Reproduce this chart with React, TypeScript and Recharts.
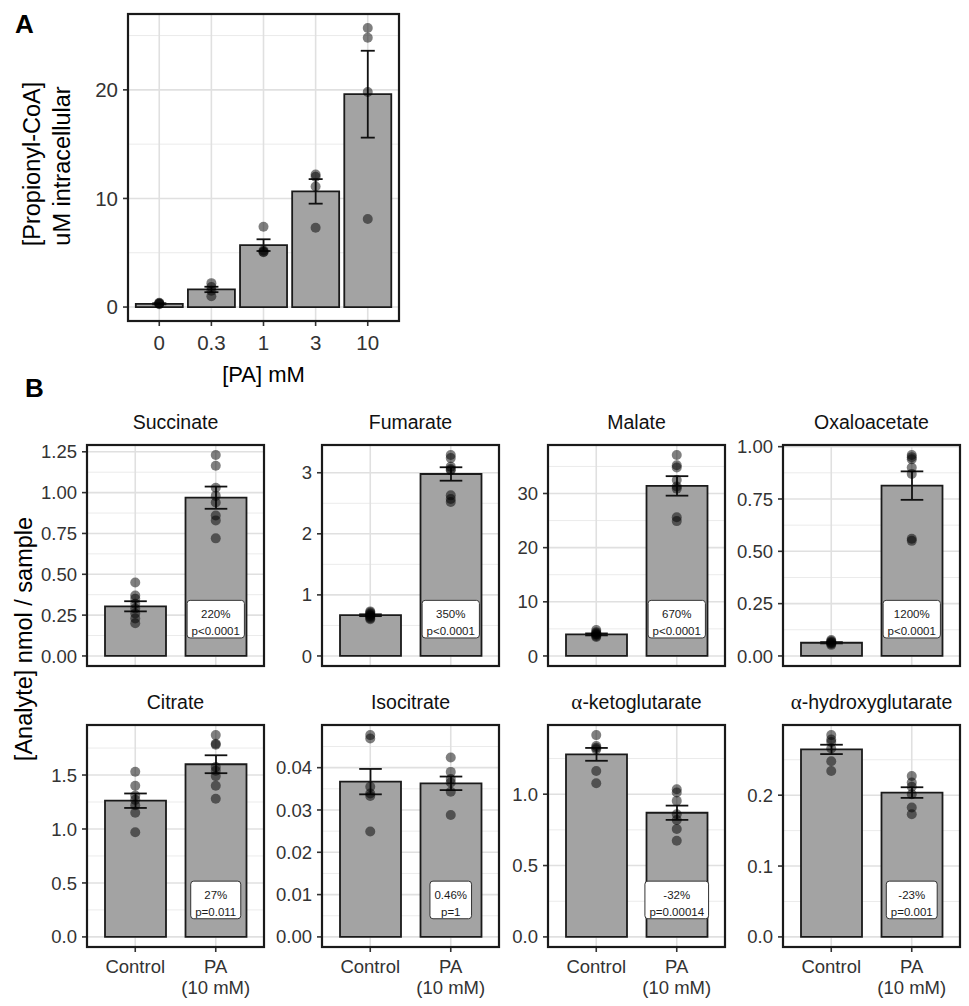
import React from "react";
import { Bar, CartesianGrid, ComposedChart, ErrorBar, ReferenceDot, Scatter, XAxis, YAxis } from "recharts";

const FONT = '"Liberation Sans", Arial, Helvetica, sans-serif';
const GREEK_FONT = '"Liberation Serif", "DejaVu Serif", serif';

// ---- panel A: propionyl-CoA vs PA dose ----
const paDoses = ["0", "0.3", "1", "3", "10"];
const propionylMeans = [0.3, 1.62, 5.7, 10.65, 19.6];
const propionylSE = [0.05, 0.25, 0.54, 1.13, 4.0];
const propionylPoints = [
  [0.25, 0.3, 0.35, 0.4],
  [1.0, 1.5, 1.85, 2.2],
  [7.4, 5.2, 5.05, 5.1],
  [12.2, 12.0, 11.1, 7.3],
  [25.7, 24.8, 19.8, 8.1],
];
const propionylTicks = [0, 10, 20];
const propionylTickLabels = ["0", "10", "20"];
const propionylMinor = [5, 15, 25];

// ---- panel B: TCA analytes, Control vs PA ----
const groups = ["Control", "PA"];
const groupLabels = ["Control", "PA\n(10 mM)"];

const succinateMeans = [0.304, 0.969];
const succinateSE = [0.031, 0.068];
const succinatePoints = [
  [0.45, 0.37, 0.35, 0.32, 0.29, 0.26, 0.23, 0.2],
  [1.23, 1.165, 1.03, 0.98, 0.94, 0.86, 0.83, 0.72],
];

const fumarateMeans = [0.667, 2.98];
const fumarateSE = [0.015, 0.11];
const fumaratePoints = [
  [0.73, 0.71, 0.69, 0.67, 0.66, 0.64, 0.62, 0.6],
  [3.29, 3.24, 3.1, 3.06, 3.04, 2.63, 2.57, 2.52],
];

const malateMeans = [3.98, 31.4];
const malateSE = [0.18, 1.8];
const malatePoints = [
  [4.8, 4.4, 4.2, 4.0, 3.9, 3.7, 3.5],
  [37.1, 35.2, 34.8, 32.5, 31.3, 30.9, 25.6, 24.9],
];

const oaaMeans = [0.063, 0.814];
const oaaSE = [0.003, 0.068];
const oaaPoints = [
  [0.076, 0.07, 0.066, 0.062, 0.058, 0.053],
  [0.96, 0.95, 0.94, 0.9, 0.87, 0.56, 0.55],
];

const citrateMeans = [1.262, 1.6];
const citrateSE = [0.067, 0.083];
const citratePoints = [
  [1.53, 1.4, 1.31, 1.27, 1.22, 1.15, 0.97],
  [1.87, 1.79, 1.78, 1.575, 1.54, 1.49, 1.4, 1.28],
];

const isocitrateMeans = [0.0367, 0.0363];
const isocitrateSE = [0.003, 0.0016];
const isocitratePoints = [
  [0.0477, 0.0469, 0.0355, 0.0339, 0.0333, 0.0249],
  [0.0424, 0.039, 0.0373, 0.0365, 0.0343, 0.0288],
];

const akgMeans = [1.279, 0.87];
const akgSE = [0.045, 0.05];
const akgPoints = [
  [1.414, 1.337, 1.325, 1.314, 1.163, 1.077],
  [1.035, 1.012, 0.953, 0.86, 0.819, 0.756, 0.674],
];

const ahgMeans = [0.2646, 0.2037];
const ahgSE = [0.0066, 0.0075];
const ahgPoints = [
  [0.2848, 0.2787, 0.275, 0.266, 0.248, 0.234],
  [0.227, 0.218, 0.212, 0.2014, 0.1827, 0.173],
];

const succinateTicks = [0, 0.25, 0.5, 0.75, 1, 1.25];
const succinateTickLabels = ["0.00", "0.25", "0.50", "0.75", "1.00", "1.25"];
const succinateMinor = [0.125, 0.375, 0.625, 0.875, 1.125];
const fumarateTicks = [0, 1, 2, 3];
const fumarateTickLabels = ["0", "1", "2", "3"];
const fumarateMinor = [0.5, 1.5, 2.5];
const malateTicks = [0, 10, 20, 30];
const malateTickLabels = ["0", "10", "20", "30"];
const malateMinor = [5, 15, 25, 35];
const oaaTicks = [0, 0.25, 0.5, 0.75, 1];
const oaaTickLabels = ["0.00", "0.25", "0.50", "0.75", "1.00"];
const oaaMinor = [0.125, 0.375, 0.625, 0.875];
const citrateTicks = [0, 0.5, 1, 1.5];
const citrateTickLabels = ["0.0", "0.5", "1.0", "1.5"];
const citrateMinor = [0.25, 0.75, 1.25, 1.75];
const isocitrateTicks = [0, 0.01, 0.02, 0.03, 0.04];
const isocitrateTickLabels = ["0.00", "0.01", "0.02", "0.03", "0.04"];
const isocitrateMinor = [0.005, 0.015, 0.025, 0.035, 0.045];
const akgTicks = [0, 0.5, 1];
const akgTickLabels = ["0.0", "0.5", "1.0"];
const akgMinor = [0.25, 0.75, 1.25];
const ahgTicks = [0, 0.1, 0.2];
const ahgTickLabels = ["0.0", "0.1", "0.2"];
const ahgMinor = [0.05, 0.15, 0.25];

const analyteNames = [
  "Succinate",
  "Fumarate",
  "Malate",
  "Oxaloacetate",
  "Citrate",
  "Isocitrate",
  "α-ketoglutarate",
  "α-hydroxyglutarate",
];
const changeLabels = ["220%", "350%", "670%", "1200%", "27%", "0.46%", "-32%", "-23%"];
const pLabels = ["p<0.0001", "p<0.0001", "p<0.0001", "p<0.0001", "p=0.011", "p=1", "p=0.00014", "p=0.001"];

// ---- helpers ----
function expandedDomain(means: number[], se: number[], points: number[][]): [number, number] {
  const vals = [0, ...means.map((m, i) => m + se[i]), ...means.map((m, i) => m - se[i]), ...points.flat()];
  const lo = Math.min(...vals);
  const hi = Math.max(...vals);
  const pad = (hi - lo) * 0.05;
  return [lo - pad, hi + pad];
}

let measureCtx: CanvasRenderingContext2D | null = null;
function textWidth(s: string, size: number) {
  if (!measureCtx) measureCtx = document.createElement("canvas").getContext("2d");
  if (!measureCtx) return s.length * size * 0.55;
  measureCtx.font = `${size}px ${FONT}`;
  return measureCtx.measureText(s).width;
}

function NoteBox({ cx, cy, lines }: { cx: number; cy: number; lines: [string, string] }) {
  const size = 11.5;
  const w = Math.max(textWidth(lines[0], size), textWidth(lines[1], size)) + 9;
  const h = 37.6;
  const top = cy - h / 2;
  return (
    <g>
      <rect x={cx - w / 2} y={top} width={w} height={h} rx={3} fill="#fff" stroke="#333" strokeWidth={1} />
      <text x={cx} y={top + 17.7} textAnchor="middle" fontSize={size} fontFamily={FONT} fill="#1a1a1a">
        {lines[0]}
      </text>
      <text x={cx} y={top + 35.1} textAnchor="middle" fontSize={size} fontFamily={FONT} fill="#1a1a1a">
        {lines[1]}
      </text>
    </g>
  );
}

const dotShape = (props: any) => <circle cx={props.cx} cy={props.cy} r={5} fill="#000" fillOpacity={0.5} />;

// band centre of a category from whatever scale object recharts hands the grid
function bandCentre(scale: any, value: string): number {
  if (!scale) return NaN;
  const bw = typeof scale.bandwidth === "function" ? scale.bandwidth() : 0;
  if (typeof scale === "function") return scale(value) + bw / 2;
  if (typeof scale.map === "function") return scale.map(value) + bw / 2;
  if (typeof scale.apply === "function") return scale.apply(value) + bw / 2;
  return NaN;
}

type PanelProps = {
  categories: string[];
  tickNames: string[];
  means: number[];
  se: number[];
  points: number[][];
  ticks: number[];
  tickLabels: string[];
  minor: number[];
  box: { x: number; y: number; w: number; h: number };
  showX: boolean;
  padX: number;
  gap: number;
  whisker: number;
  yFont: number;
  xFont: number;
  xDy: number;
  note?: [string, string];
};

function Panel(p: PanelProps) {
  const { box } = p;
  const yw = 72;
  const top = 14;
  const right = 4;
  const xh = p.showX ? 60 : 0;
  const bottom = p.showX ? 0 : 4;
  const rows = p.categories.map((c, i) => ({ group: c, mean: p.means[i], se: p.se[i] }));
  const dots = p.points.flatMap((vals, i) => vals.map((v) => ({ group: p.categories[i], value: v })));
  const domain = expandedDomain(p.means, p.se, p.points);
  const labelY = domain[0] + 0.212 * (domain[1] - domain[0]);

  const vGen = (args: any) => {
    let out: number[] = [];
    try {
      out = p.categories.map((c) => bandCentre(args?.xAxis?.scale, c));
    } catch (e) {
      out = [];
    }
    if (out.length && out.every((v) => Number.isFinite(v))) return out;
    // fallback: evenly spaced bands inside the padded range
    const off = args?.offset ?? { left: 0, width: 0 };
    const band = (off.width - 2 * p.padX) / p.categories.length;
    return p.categories.map((_, i) => off.left + p.padX + band * (i + 0.5));
  };

  const XTick = (t: any) => {
    const idx = p.categories.indexOf(t.payload.value);
    const lines = (idx >= 0 ? p.tickNames[idx] : String(t.payload.value)).split("\n");
    return (
      <text x={t.x} y={t.y + p.xDy} textAnchor="middle" fontSize={p.xFont} fontFamily={FONT} fill="#333">
        {lines.map((l, i) => (
          <tspan key={i} x={t.x} dy={i === 0 ? 0 : 21}>
            {l}
          </tspan>
        ))}
      </text>
    );
  };

  return (
    <div style={{ position: "absolute", left: box.x - yw, top: box.y - top }}>
      <ComposedChart
        width={yw + box.w + right}
        height={top + box.h + xh + bottom}
        data={rows}
        margin={{ top, right, bottom, left: 0 }}
        barCategoryGap={p.gap}
      >
        <CartesianGrid horizontalValues={p.minor} vertical={false} stroke="#ebebeb" strokeWidth={1} />
        <CartesianGrid horizontalValues={p.ticks} verticalCoordinatesGenerator={vGen} stroke="#e0e0e0" strokeWidth={1.6} />
        <XAxis
          dataKey="group"
          type="category"
          allowDuplicatedCategory={false}
          padding={{ left: p.padX, right: p.padX }}
          hide={!p.showX}
          height={xh}
          axisLine={false}
          tickLine={{ stroke: "#333", strokeWidth: 1.6 }}
          tickSize={5}
          tickMargin={0}
          interval={0}
          tick={<XTick />}
        />
        <YAxis
          type="number"
          domain={domain}
          allowDataOverflow
          ticks={p.ticks}
          interval={0}
          tickFormatter={(v: number) => p.tickLabels[p.ticks.indexOf(v)] ?? String(v)}
          width={yw}
          axisLine={false}
          tickLine={{ stroke: "#333", strokeWidth: 1.6 }}
          tickSize={5}
          tickMargin={5}
          tick={{ fontSize: p.yFont, fill: "#333", fontFamily: FONT }}
        />
        <Bar dataKey="mean" fill="#a3a3a3" stroke="#1a1a1a" strokeWidth={1.8} isAnimationActive={false}>
          <ErrorBar dataKey="se" width={p.whisker} stroke="#111" strokeWidth={1.8} />
        </Bar>
        <Scatter data={dots} dataKey="value" isAnimationActive={false} shape={dotShape} />
        {p.note && (
          <ReferenceDot
            x={p.categories[1]}
            y={labelY}
            ifOverflow="visible"
            shape={(s: any) => <NoteBox cx={s.cx} cy={s.cy} lines={p.note as [string, string]} />}
          />
        )}
      </ComposedChart>
    </div>
  );
}

const colX = [87, 322, 548, 783];
const rowBoxes = [
  { y: 445, h: 221 },
  { y: 725, h: 222 },
];
const PANEL_W = 177;

const analyteData = [
  { means: succinateMeans, se: succinateSE, points: succinatePoints, ticks: succinateTicks, labels: succinateTickLabels, minor: succinateMinor },
  { means: fumarateMeans, se: fumarateSE, points: fumaratePoints, ticks: fumarateTicks, labels: fumarateTickLabels, minor: fumarateMinor },
  { means: malateMeans, se: malateSE, points: malatePoints, ticks: malateTicks, labels: malateTickLabels, minor: malateMinor },
  { means: oaaMeans, se: oaaSE, points: oaaPoints, ticks: oaaTicks, labels: oaaTickLabels, minor: oaaMinor },
  { means: citrateMeans, se: citrateSE, points: citratePoints, ticks: citrateTicks, labels: citrateTickLabels, minor: citrateMinor },
  { means: isocitrateMeans, se: isocitrateSE, points: isocitratePoints, ticks: isocitrateTicks, labels: isocitrateTickLabels, minor: isocitrateMinor },
  { means: akgMeans, se: akgSE, points: akgPoints, ticks: akgTicks, labels: akgTickLabels, minor: akgMinor },
  { means: ahgMeans, se: ahgSE, points: ahgPoints, ticks: ahgTicks, labels: ahgTickLabels, minor: ahgMinor },
];

// strip title, with a leading Greek letter set in a serif face as in the figure
function StripTitle({ x, y, name }: { x: number; y: number; name: string }) {
  const greek = name.startsWith("α");
  return (
    <text x={x} y={y} textAnchor="middle" fontSize={19.5} fontFamily={FONT} fill="#111">
      {greek ? (
        <>
          <tspan fontFamily={GREEK_FONT} fontSize={21}>
            α
          </tspan>
          <tspan>{name.slice(1)}</tspan>
        </>
      ) : (
        name
      )}
    </text>
  );
}

export default function App() {
  const boxA = { x: 128, y: 14, w: 271, h: 307 };
  const boxes = analyteData.map((_, i) => ({
    x: colX[i % 4],
    y: rowBoxes[Math.floor(i / 4)].y,
    w: PANEL_W,
    h: rowBoxes[Math.floor(i / 4)].h,
  }));

  return (
    <div style={{ position: "absolute", left: 0, top: 0, width: 969, height: 1006, background: "#fff", fontFamily: FONT }}>
      <Panel
        categories={paDoses}
        tickNames={paDoses}
        means={propionylMeans}
        se={propionylSE}
        points={propionylPoints}
        ticks={propionylTicks}
        tickLabels={propionylTickLabels}
        minor={propionylMinor}
        box={boxA}
        showX
        padX={5.2}
        gap={2.6}
        whisker={7}
        yFont={20.5}
        xFont={20.5}
        xDy={24}
      />
      {analyteData.map((d, i) => (
        <Panel
          key={analyteNames[i]}
          categories={groups}
          tickNames={groupLabels}
          means={d.means}
          se={d.se}
          points={d.points}
          ticks={d.ticks}
          tickLabels={d.labels}
          minor={d.minor}
          box={boxes[i]}
          showX={i >= 4}
          padX={8}
          gap={10}
          whisker={11.3}
          yFont={18.5}
          xFont={18.5}
          xDy={21.3}
          note={[changeLabels[i], pLabels[i]]}
        />
      ))}
      <svg width={969} height={1006} style={{ position: "absolute", left: 0, top: 0, pointerEvents: "none" }}>
        <rect x={boxA.x} y={boxA.y} width={boxA.w} height={boxA.h} fill="none" stroke="#1a1a1a" strokeWidth={2.2} />
        {boxes.map((b, i) => (
          <rect key={i} x={b.x} y={b.y} width={b.w} height={b.h} fill="none" stroke="#1a1a1a" strokeWidth={2.2} />
        ))}
        <text x={15} y={33} fontSize={26} fontWeight="bold" fontFamily={FONT} fill="#000">
          A
        </text>
        <text x={25} y={397} fontSize={26} fontWeight="bold" fontFamily={FONT} fill="#000">
          B
        </text>
        <text
          x={31.5}
          y={164}
          transform="rotate(-90 31.5 164)"
          textAnchor="middle"
          dominantBaseline="central"
          fontSize={23.5}
          fontFamily={FONT}
          fill="#000"
        >
          [Propionyl-CoA]
        </text>
        <text
          x={62}
          y={166}
          transform="rotate(-90 62 166)"
          textAnchor="middle"
          dominantBaseline="central"
          fontSize={23.5}
          fontFamily={FONT}
          fill="#000"
        >
          uM intracellular
        </text>
        <text x={263.5} y={382} textAnchor="middle" fontSize={22} fontFamily={FONT} fill="#000">
          [PA] mM
        </text>
        <text
          x={24}
          y={639}
          transform="rotate(-90 24 639)"
          textAnchor="middle"
          dominantBaseline="central"
          fontSize={23.5}
          fontFamily={FONT}
          fill="#000"
        >
          [Analyte] nmol / sample
        </text>
        {boxes.map((b, i) => (
          <StripTitle key={analyteNames[i]} x={b.x + b.w / 2} y={i < 4 ? 429.3 : 709.3} name={analyteNames[i]} />
        ))}
      </svg>
    </div>
  );
}
